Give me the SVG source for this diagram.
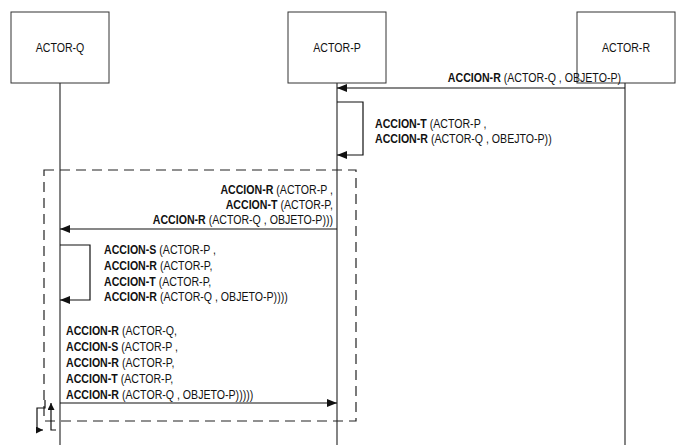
<svg xmlns="http://www.w3.org/2000/svg" width="679" height="445" viewBox="0 0 679 445">
<defs>
<style>
.box{fill:#fff;stroke:#333;stroke-width:1}
.life{stroke:#333;stroke-width:1.2;fill:none}
.msg{stroke:#111;stroke-width:1.2;fill:none}
.frame{stroke:#222;stroke-width:1.2;fill:none;stroke-dasharray:10,6}
text{font-family:"Liberation Sans",Arial,sans-serif;font-size:13.5px;fill:#111}
.b{font-weight:bold}
.e{text-anchor:end}
.m{text-anchor:middle}
</style>
<marker id="ah" markerWidth="10" markerHeight="8" refX="10" refY="4" orient="auto" markerUnits="userSpaceOnUse">
<path d="M0,0 L10,4 L0,8 Z" fill="#111"/>
</marker>
<marker id="ahs" markerWidth="7" markerHeight="7" refX="7" refY="3.5" orient="auto" markerUnits="userSpaceOnUse">
<path d="M0,0 L7,3.5 L0,7 Z" fill="#111"/>
</marker>
</defs>
<rect width="679" height="445" fill="#fff"/>
<g id="lifelines">
<line class="life" x1="60" y1="83" x2="60" y2="445"/>
<line class="life" x1="337" y1="83" x2="337" y2="445"/>
<line class="life" x1="625" y1="83" x2="625" y2="445"/>
</g>
<g id="actor-q"><rect class="box" x="11" y="12" width="98" height="71"/><text class="m" transform="translate(60,52) scale(0.785,1)">ACTOR-Q</text></g>
<g id="actor-p"><rect class="box" x="288" y="12" width="98" height="71"/><text class="m" transform="translate(337,52) scale(0.785,1)">ACTOR-P</text></g>
<g id="actor-r"><rect class="box" x="577" y="12" width="98" height="71"/><text class="m" transform="translate(626,52) scale(0.785,1)">ACTOR-R</text></g>
<g id="frame"><rect class="frame" x="44" y="170" width="312" height="251"/></g>
<g id="connectors">
<line class="msg" x1="625" y1="88" x2="337" y2="88" marker-end="url(#ah)"/>
<path class="msg" d="M337,102 H363 V155 H337" marker-end="url(#ah)"/>
<line class="msg" x1="337" y1="229" x2="60" y2="229" marker-end="url(#ah)"/>
<path class="msg" d="M60,245 H90 V300 H60" marker-end="url(#ah)"/>
<line class="msg" x1="60" y1="403" x2="337" y2="403" marker-end="url(#ah)"/>
<path class="msg" d="M45,400 V408 H37 V430 H43" marker-end="url(#ahs)"/>
<path class="msg" d="M56,430 H51 V403" marker-end="url(#ahs)"/>
</g>
<g id="labels">
<text class="e" transform="translate(621,82) scale(0.785,1)"><tspan class="b">ACCION-R</tspan> (ACTOR-Q , OBJETO-P)</text>
<text transform="translate(375,128) scale(0.785,1)"><tspan class="b">ACCION-T</tspan> (ACTOR-P ,</text>
<text transform="translate(375,143) scale(0.785,1)"><tspan class="b">ACCION-R</tspan> (ACTOR-Q , OBEJTO-P))</text>
<text class="e" transform="translate(333,194) scale(0.785,1)"><tspan class="b">ACCION-R</tspan> (ACTOR-P ,</text>
<text class="e" transform="translate(333,209) scale(0.785,1)"><tspan class="b">ACCION-T</tspan> (ACTOR-P,</text>
<text class="e" transform="translate(333,224) scale(0.785,1)"><tspan class="b">ACCION-R</tspan> (ACTOR-Q , OBJETO-P)))</text>
<text transform="translate(104,254) scale(0.785,1)"><tspan class="b">ACCION-S</tspan> (ACTOR-P ,</text>
<text transform="translate(104,270) scale(0.785,1)"><tspan class="b">ACCION-R</tspan> (ACTOR-P,</text>
<text transform="translate(104,286) scale(0.785,1)"><tspan class="b">ACCION-T</tspan> (ACTOR-P,</text>
<text transform="translate(104,301) scale(0.785,1)"><tspan class="b">ACCION-R</tspan> (ACTOR-Q , OBJETO-P))))</text>
<text transform="translate(66,335) scale(0.785,1)"><tspan class="b">ACCION-R</tspan> (ACTOR-Q,</text>
<text transform="translate(66,351) scale(0.785,1)"><tspan class="b">ACCION-S</tspan> (ACTOR-P ,</text>
<text transform="translate(66,367) scale(0.785,1)"><tspan class="b">ACCION-R</tspan> (ACTOR-P,</text>
<text transform="translate(66,383) scale(0.785,1)"><tspan class="b">ACCION-T</tspan> (ACTOR-P,</text>
<text transform="translate(66,399) scale(0.785,1)"><tspan class="b">ACCION-R</tspan> (ACTOR-Q , OBJETO-P)))))</text>
</g>
</svg>
